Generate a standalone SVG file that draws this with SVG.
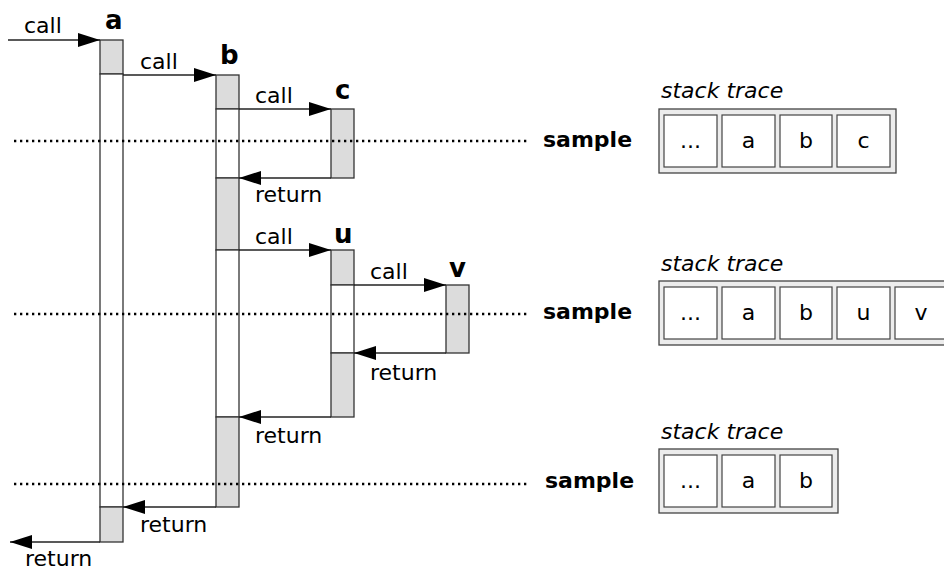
<svg xmlns="http://www.w3.org/2000/svg" width="944" height="570" viewBox="0 0 944 570">
<style>
text{font-family:"DejaVu Sans","Liberation Sans",sans-serif;font-size:22px;fill:#000}
.b{font-weight:bold;font-size:22px}
.n{font-weight:bold;font-size:26px}
.i{font-style:italic}
.m{text-anchor:middle}
.g{fill:#dcdcdc;stroke:#333;stroke-width:1.3}
.w{fill:#fff;stroke:#333;stroke-width:1.3}
.ar{stroke:#222;stroke-width:1.3;fill:none;marker-end:url(#ah)}
.dot{stroke:#000;stroke-width:2.3;stroke-dasharray:2.3 3.7;fill:none}
.st{fill:#ececec;stroke:#444;stroke-width:1.3}
.cell{fill:#fff;stroke:#444;stroke-width:1.2}
</style>
<defs>
<marker id="ah" markerUnits="userSpaceOnUse" markerWidth="22" markerHeight="14" refX="22" refY="7" orient="auto">
<path d="M0,0 L22,7 L0,14 z" fill="#000"/>
</marker>
</defs>
<g id="a">
<rect class="g" x="100" y="40" width="23" height="34"/>
<rect class="w" x="100" y="74" width="23" height="433"/>
<rect class="g" x="100" y="507" width="23" height="35"/>
<text class="n" x="105" y="29">a</text>
</g>
<g id="b">
<rect class="g" x="216" y="75" width="23" height="34"/>
<rect class="w" x="216" y="109" width="23" height="69"/>
<rect class="g" x="216" y="178" width="23" height="72"/>
<rect class="w" x="216" y="250" width="23" height="167"/>
<rect class="g" x="216" y="417" width="23" height="90"/>
<text class="n" x="220" y="64">b</text>
</g>
<g id="c">
<rect class="g" x="331" y="109" width="23" height="69"/>
<text class="n" x="335" y="99">c</text>
</g>
<g id="u">
<rect class="g" x="331" y="250" width="23" height="35"/>
<rect class="w" x="331" y="285" width="23" height="68"/>
<rect class="g" x="331" y="353" width="23" height="64"/>
<text class="n" x="334" y="243">u</text>
</g>
<g id="v">
<rect class="g" x="446" y="285" width="23" height="68"/>
<text class="n" x="449" y="277">v</text>
</g>
<g id="samples">
<line class="dot" x1="14" y1="141" x2="528" y2="141"/>
<line class="dot" x1="14" y1="314" x2="528" y2="314"/>
<line class="dot" x1="14" y1="484" x2="528" y2="484"/>
<text class="b" x="543" y="147">sample</text>
<text class="b" x="543" y="319">sample</text>
<text class="b" x="545" y="488">sample</text>
</g>
<g id="connectors">
<line class="ar" x1="8" y1="40" x2="100" y2="40"/>
<line class="ar" x1="123" y1="75" x2="216" y2="75"/>
<line class="ar" x1="239" y1="109" x2="331" y2="109"/>
<line class="ar" x1="331" y1="178" x2="239" y2="178"/>
<line class="ar" x1="239" y1="250" x2="331" y2="250"/>
<line class="ar" x1="354" y1="285" x2="446" y2="285"/>
<line class="ar" x1="446" y1="353" x2="354" y2="353"/>
<line class="ar" x1="331" y1="417" x2="239" y2="417"/>
<line class="ar" x1="216" y1="507" x2="123" y2="507"/>
<line class="ar" x1="100" y1="542" x2="10" y2="542"/>
<text x="24" y="33">call</text>
<text x="140" y="69">call</text>
<text x="255" y="103">call</text>
<text x="255" y="202">return</text>
<text x="255" y="244">call</text>
<text x="370" y="279">call</text>
<text x="370" y="380">return</text>
<text x="255" y="443">return</text>
<text x="140" y="532">return</text>
<text x="25" y="566">return</text>
</g>
<g id="stack1">
<text class="i" x="661" y="98">stack trace</text>
<rect class="st" x="659" y="109" width="237" height="64"/>
<rect class="cell" x="664" y="115" width="53" height="52"/>
<rect class="cell" x="722" y="115" width="53" height="52"/>
<rect class="cell" x="780" y="115" width="52" height="52"/>
<rect class="cell" x="837" y="115" width="53" height="52"/>
<text class="m" x="690.5" y="148">...</text>
<text class="m" x="748.5" y="148">a</text>
<text class="m" x="806" y="148">b</text>
<text class="m" x="863.5" y="148">c</text>
</g>
<g id="stack2">
<text class="i" x="661" y="271">stack trace</text>
<rect class="st" x="659" y="281" width="295" height="64"/>
<rect class="cell" x="664" y="287" width="53" height="52"/>
<rect class="cell" x="722" y="287" width="53" height="52"/>
<rect class="cell" x="780" y="287" width="52" height="52"/>
<rect class="cell" x="837" y="287" width="53" height="52"/>
<rect class="cell" x="895" y="287" width="53" height="52"/>
<text class="m" x="690.5" y="320">...</text>
<text class="m" x="748.5" y="320">a</text>
<text class="m" x="806" y="320">b</text>
<text class="m" x="863.5" y="320">u</text>
<text class="m" x="921" y="320">v</text>
</g>
<g id="stack3">
<text class="i" x="661" y="439">stack trace</text>
<rect class="st" x="659" y="449" width="179" height="64"/>
<rect class="cell" x="664" y="455" width="53" height="52"/>
<rect class="cell" x="722" y="455" width="53" height="52"/>
<rect class="cell" x="780" y="455" width="52" height="52"/>
<text class="m" x="690.5" y="488">...</text>
<text class="m" x="748.5" y="488">a</text>
<text class="m" x="806" y="488">b</text>
</g>
</svg>
